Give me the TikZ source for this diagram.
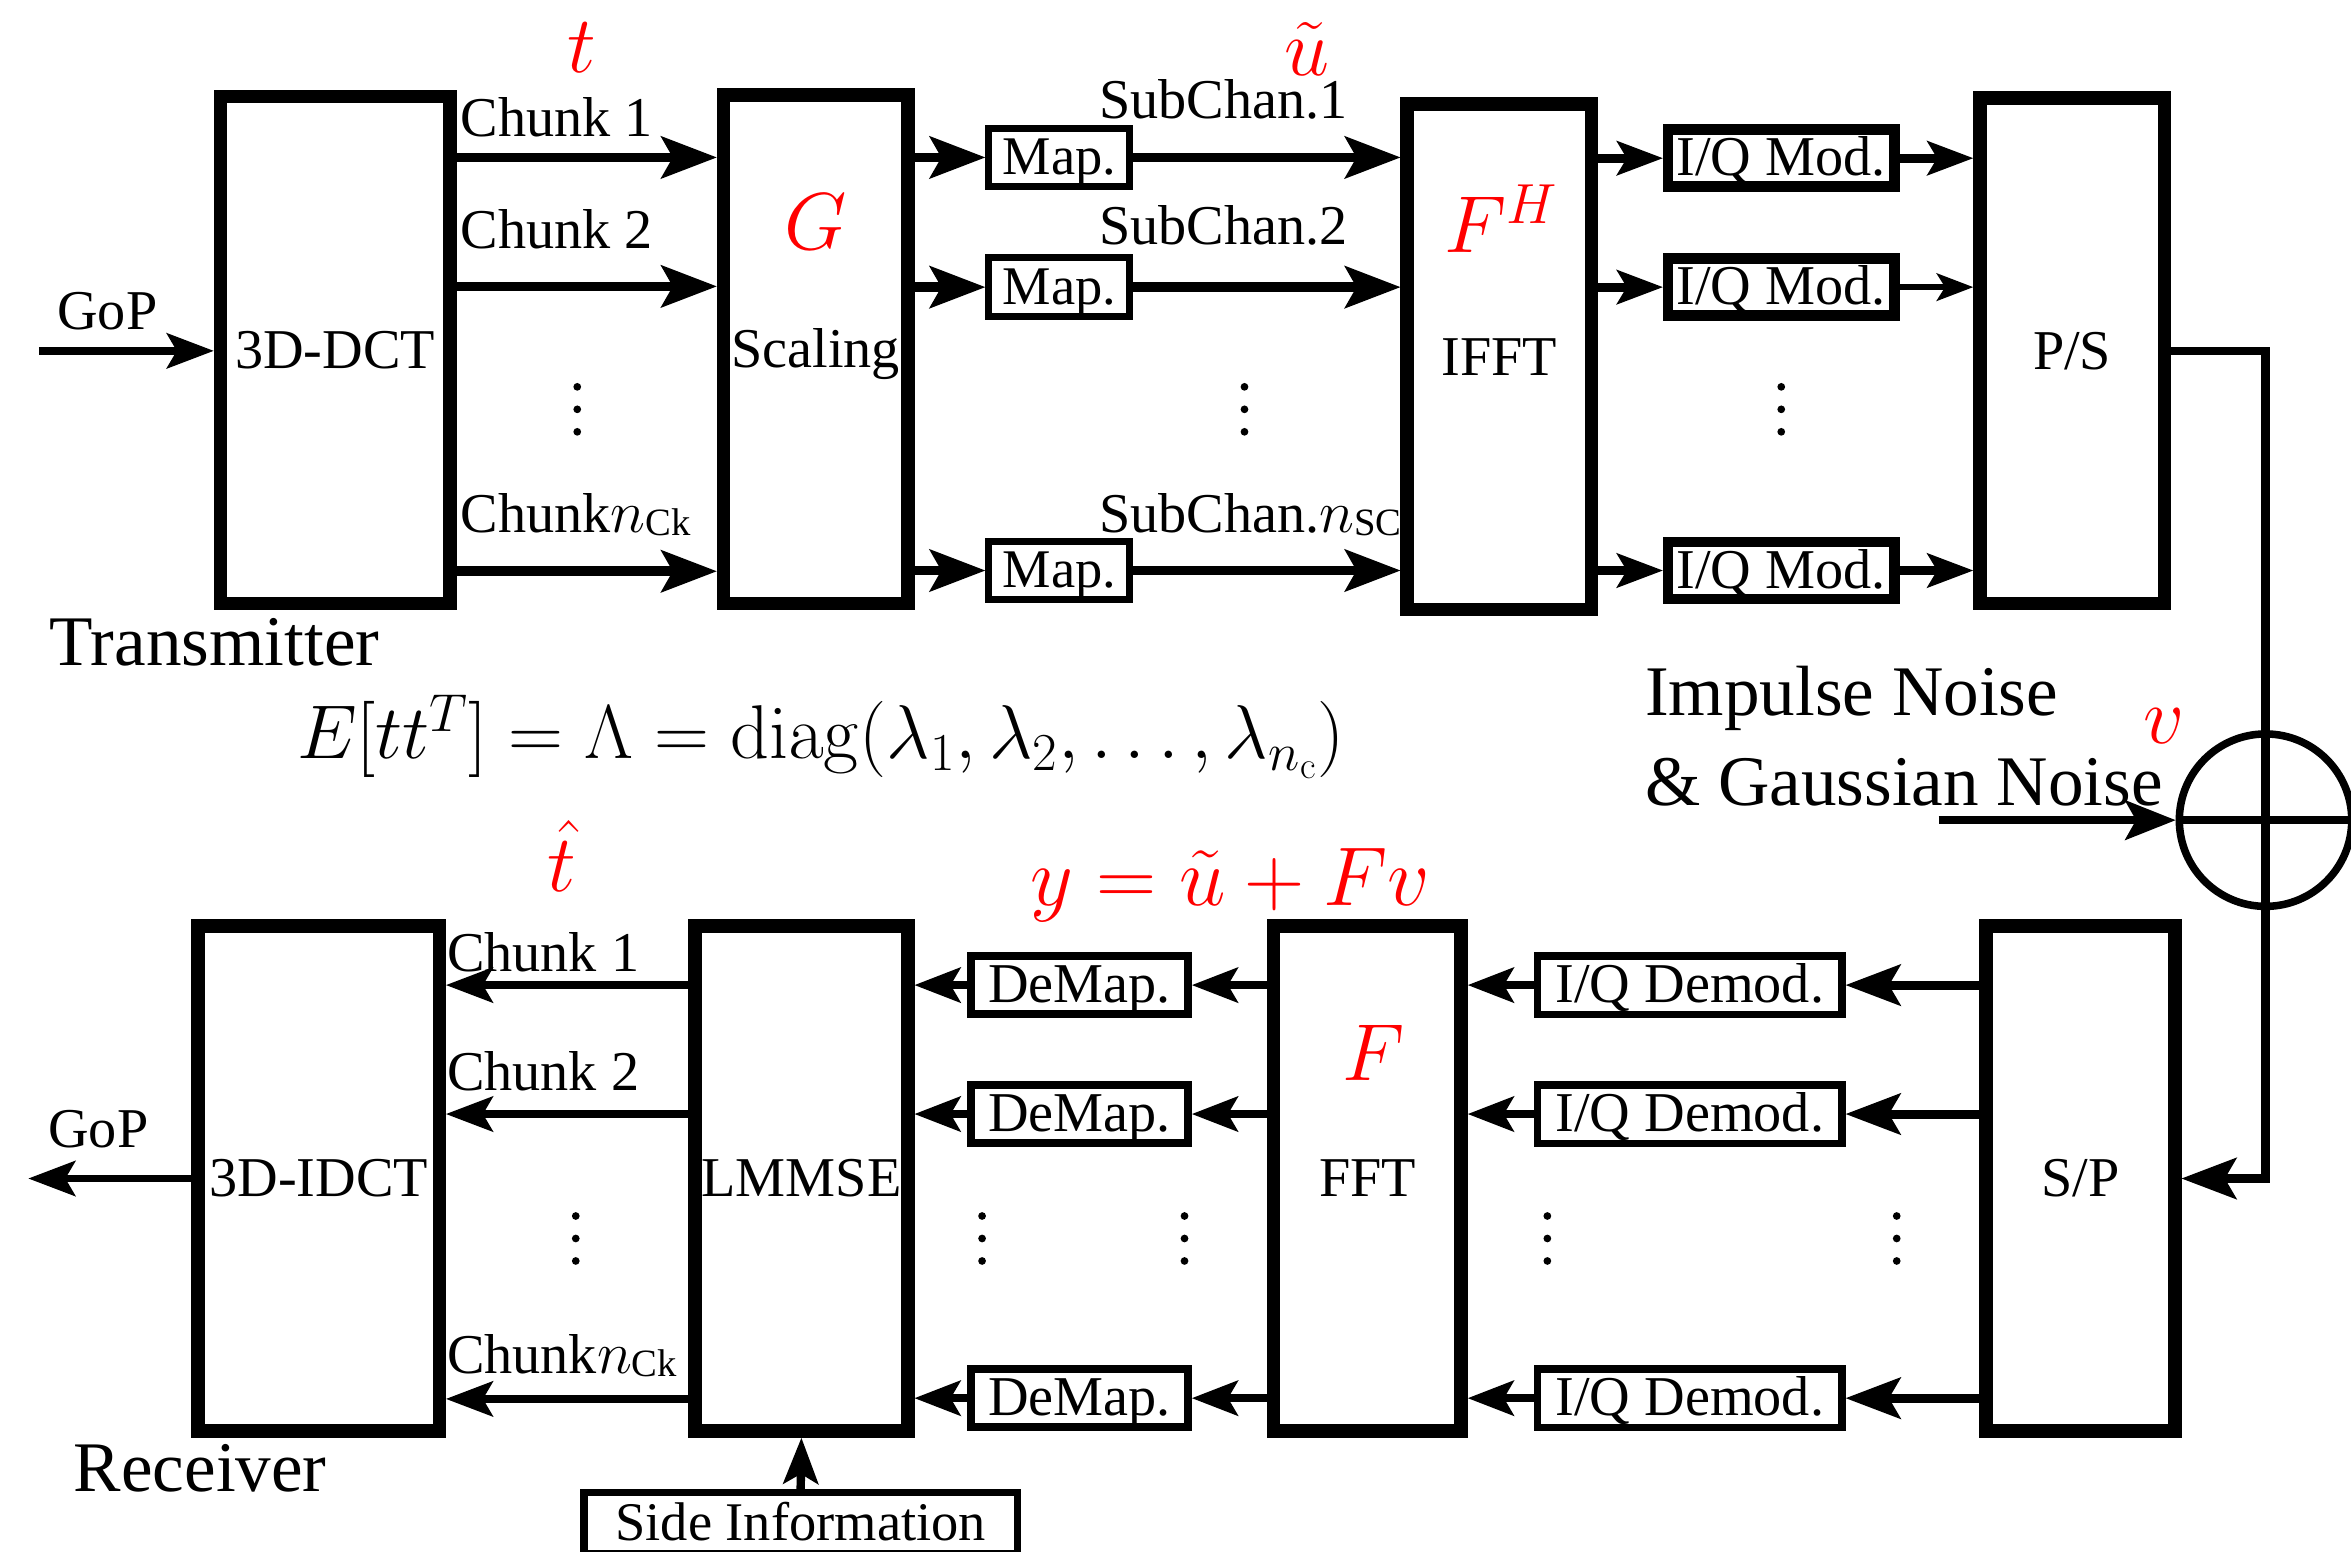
\RequirePackage{fix-cm}
\documentclass[tikz,border=0pt]{standalone}
\usepackage[no-math]{fontspec}
\setmainfont{Liberation Serif}
\usetikzlibrary{arrows.meta}
\newcommand{\fsz}[1]{\fontsize{#1}{#1}\selectfont}
\newcommand{\nsub}[1]{{\fsz{34}$n$}{\fsz{22}\raisebox{-2pt}{#1}}}
\def\U{0.03cm}
\begin{document}
\begin{tikzpicture}[x=0.03cm,y=-0.03cm,
  every node/.style={inner sep=0pt},
  bigbox/.style={draw, line width=7.7pt, font=\fsz{32}, text height=21pt, text depth=0pt},
  mapbox/.style={draw, line width=4.1pt, minimum width=94*\U, minimum height=39*\U, font=\fsz{31}, text height=19.5pt, text depth=0pt},
  iqbox/.style={draw, line width=6pt, minimum width=151*\U, minimum height=38*\U, font=\fsz{32}, text height=20pt, text depth=0pt},
  dmbox/.style={draw, line width=4.7pt, minimum width=144.5*\U, minimum height=38.5*\U, font=\fsz{32}, text height=20pt, text depth=0pt},
  iqdbox/.style={draw, line width=4.3pt, minimum width=203*\U, minimum height=39*\U, font=\fsz{32}, text height=20pt, text depth=0pt},
  txt/.style={font=\fsz{32}, anchor=base west},
  bigtxt/.style={font=\fsz{40.5}, anchor=base west},
  redlbl/.style={text=red, font=\fsz{46}},
  arrA/.style={line width=5.5pt, -{Stealth[length=32pt,width=24.5pt,inset=7pt,line width=1pt]}},
  arrB/.style={line width=5.1pt, -{Stealth[length=26.5pt,width=20pt,inset=6pt,line width=1pt]}},
  arrC/.style={line width=3.1pt, -{Stealth[length=21pt,width=16pt,inset=5pt,line width=1pt]}},
  arrD/.style={line width=5.1pt, -{Stealth[length=31.6pt,width=24pt,inset=7pt,line width=1pt]}},
  arrE/.style={line width=4.8pt, -{Stealth[length=26.5pt,width=20.5pt,inset=6pt,line width=1pt]}},
  arrF/.style={line width=4.2pt, -{Stealth[length=27pt,width=20.5pt,inset=6pt,line width=1pt]}},
  arrG/.style={line width=4.7pt, -{Stealth[length=27pt,width=20.5pt,inset=6pt,line width=1pt]}},
  thinline/.style={line width=4.9pt}
]
\path[use as bounding box, fill=white] (0,0) rectangle (1568,1035);

% ---------------- Transmitter ----------------
\coordinate (r1) at (0,105);
\coordinate (r2) at (0,191);
\coordinate (r3) at (0,381);
\coordinate (gin) at (26,234);

\node[bigbox, minimum width=153*\U, minimum height=338*\U] (dct) at (223.5,233.5) {3D-DCT};
\node[bigbox, minimum width=123*\U, minimum height=339*\U] (scal) at (544,233) {Scaling};
\node[bigbox, minimum width=123*\U, minimum height=337*\U] (ifft) at (1000,238) {IFFT};
\node[bigbox, minimum width=123*\U, minimum height=337*\U] (ps) at (1382,234) {P/S};

\node[mapbox] (map1) at (706.5,105) {Map.};
\node[mapbox] (map2) at (706.5,191.5) {Map.};
\node[mapbox] (map3) at (706.5,380.5) {Map.};

\node[iqbox] (iq1) at (1188,105.5) {I/Q Mod.};
\node[iqbox] (iq2) at (1188,191.5) {I/Q Mod.};
\node[iqbox] (iq3) at (1188,380.5) {I/Q Mod.};

\draw[arrG] (gin) -- (dct.west |- gin);
\node[txt] (gopin) at (38,220) {GoP};

\draw[arrA] (dct.east |- r1) -- (scal.west |- r1);
\draw[arrA] (dct.east |- r2) -- (scal.west |- r2);
\draw[arrA] (dct.east |- r3) -- (scal.west |- r3);
\node[txt] (ck1) at (307,91) {Chunk 1};
\node[txt] (ck2) at (307,166) {Chunk 2};
\node[txt] (ckn) at (307,355) {Chunk\nsub{Ck}};

\draw[arrA] (scal.east |- map1) -- (map1.west);
\draw[arrA] (scal.east |- map2) -- (map2.west);
\draw[arrA] (scal.east |- map3) -- (map3.west);

\draw[arrA] (map1.east) -- (ifft.west |- map1);
\draw[arrA] (map2.east) -- (ifft.west |- map2);
\draw[arrA] (map3.east) -- (ifft.west |- map3);
\node[txt] (sc1) at (733,79) {SubChan.1};
\node[txt] (sc2) at (733,163) {SubChan.2};
\node[txt] (scn) at (733,355) {SubChan.\nsub{SC}};

\draw[arrB] (ifft.east |- iq1) -- (iq1.west);
\draw[arrB] (ifft.east |- iq2) -- (iq2.west);
\draw[arrB] (ifft.east |- iq3) -- (iq3.west);

\draw[arrB] (iq1.east) -- (ps.west |- iq1);
\draw[arrC] (iq2.east) -- (ps.west |- iq2);
\draw[arrB] (iq3.east) -- (ps.west |- iq3);

% dots
\foreach \xx in {385,830,1188} {
  \foreach \yy in {258,273,288} { \fill (\xx,\yy) circle[radius=2.2pt]; }
}

% red labels top
\node[redlbl] (lt) at (388,32) {$t$};
\node[redlbl] (lu) at (872,33) {$\tilde{u}$};
\node[redlbl] (lg) at (544,148) {$G$};
\node[redlbl] (lfh) at (1001,146) {$F^{H}$};

\node[bigtxt] (tx) at (33,444) {Transmitter};
\node[font=\fsz{43.4}, anchor=base west] (eq) at (198,506)
  {$E[tt^{T}]=\Lambda=\mathrm{diag}\bigl(\lambda_1,\lambda_2,\ldots,\lambda_{n_{\mathrm{c}}}\bigr)$};

% ---------------- Receiver ----------------
\coordinate (b1) at (0,657);
\coordinate (b2) at (0,743);
\coordinate (b3) at (0,933);
\coordinate (gout) at (19,786);

\node[bigbox, minimum width=161*\U, minimum height=337*\U] (idct) at (212.5,786) {3D-IDCT};
\node[bigbox, minimum width=142*\U, minimum height=337*\U] (lmmse) at (534.5,786) {LMMSE};
\node[bigbox, minimum width=125*\U, minimum height=337*\U] (fft) at (912,786) {FFT};
\node[bigbox, minimum width=126*\U, minimum height=337*\U] (sp) at (1387.5,786) {S/P};

\node[dmbox] (de1) at (720,657) {DeMap.};
\node[dmbox] (de2) at (720,743) {DeMap.};
\node[dmbox] (de3) at (720,932.5) {DeMap.};

\node[iqdbox] (dm1) at (1127,657) {I/Q Demod.};
\node[iqdbox] (dm2) at (1127,743) {I/Q Demod.};
\node[iqdbox] (dm3) at (1127,932.5) {I/Q Demod.};

\node[draw, line width=4.3pt, minimum width=289*\U, minimum height=41*\U, font=\fsz{31}, text height=20pt, text depth=0pt] (side) at (534,1016) {Side Information};

% ---------------- Channel ----------------
\coordinate (c1) at (1511,234);
\coordinate (c2) at (1511,786);
\node[circle, draw, line width=4.3pt, minimum size=115*\U] (sum) at (1511,547) {};
\draw[thinline, -{Stealth[length=31.6pt,width=24pt,inset=7pt,line width=1pt]}]
  (ps.east |- c1) -- (c1) -- (c2) -- (sp.east |- c2);
\draw[line width=4.3pt] (sum.west) -- (sum.east);
\coordinate (nz) at (1293,547);
\draw[line width=4.6pt, -{Stealth[length=29pt,width=23pt,inset=6.5pt,line width=1pt]}] (nz) -- (sum.west);
\node[bigtxt] (imp) at (1097,477) {Impulse Noise};
\node[bigtxt] (gau) at (1097,537) {\& Gaussian Noise};
\node[redlbl] (lv) at (1443,484) {$v$};

% receiver connectors
\draw[arrD] (sp.west |- dm1) -- (dm1.east);
\draw[arrD] (sp.west |- dm2) -- (dm2.east);
\draw[arrD] (sp.west |- dm3) -- (dm3.east);

\draw[arrE] (dm1.west) -- (fft.east |- dm1);
\draw[arrE] (dm2.west) -- (fft.east |- dm2);
\draw[arrE] (dm3.west) -- (fft.east |- dm3);

\draw[arrE] (fft.west |- de1) -- (de1.east);
\draw[arrE] (fft.west |- de2) -- (de2.east);
\draw[arrE] (fft.west |- de3) -- (de3.east);

\draw[arrE] (de1.west) -- (lmmse.east |- de1);
\draw[arrE] (de2.west) -- (lmmse.east |- de2);
\draw[arrE] (de3.west) -- (lmmse.east |- de3);

\draw[arrF] (lmmse.west |- b1) -- (idct.east |- b1);
\draw[arrF] (lmmse.west |- b2) -- (idct.east |- b2);
\draw[arrF] (lmmse.west |- b3) -- (idct.east |- b3);
\node[txt] (rk1) at (298,648) {Chunk 1};
\node[txt] (rk2) at (298,727) {Chunk 2};
\node[txt] (rkn) at (298,916) {Chunk\nsub{Ck}};

\draw[arrF] (idct.west) -- (gout);
\node[txt] (gopout) at (32,765) {GoP};

\draw[arrE] (side.north) -- (lmmse.south);

\foreach \xx in {384,655,790,1032,1265} {
  \foreach \yy in {811,826,841} { \fill (\xx,\yy) circle[radius=2.2pt]; }
}

\node[redlbl] (lth) at (375,571) {$\hat{t}$};
\node[text=red, font=\fsz{47.5}, anchor=base west] (ly) at (687,604) {$y=\tilde{u}+Fv$};
\node[redlbl] (lf) at (916,702) {$F$};

\node[bigtxt] (rx) at (49,995) {Receiver};
\end{tikzpicture}
\end{document}
